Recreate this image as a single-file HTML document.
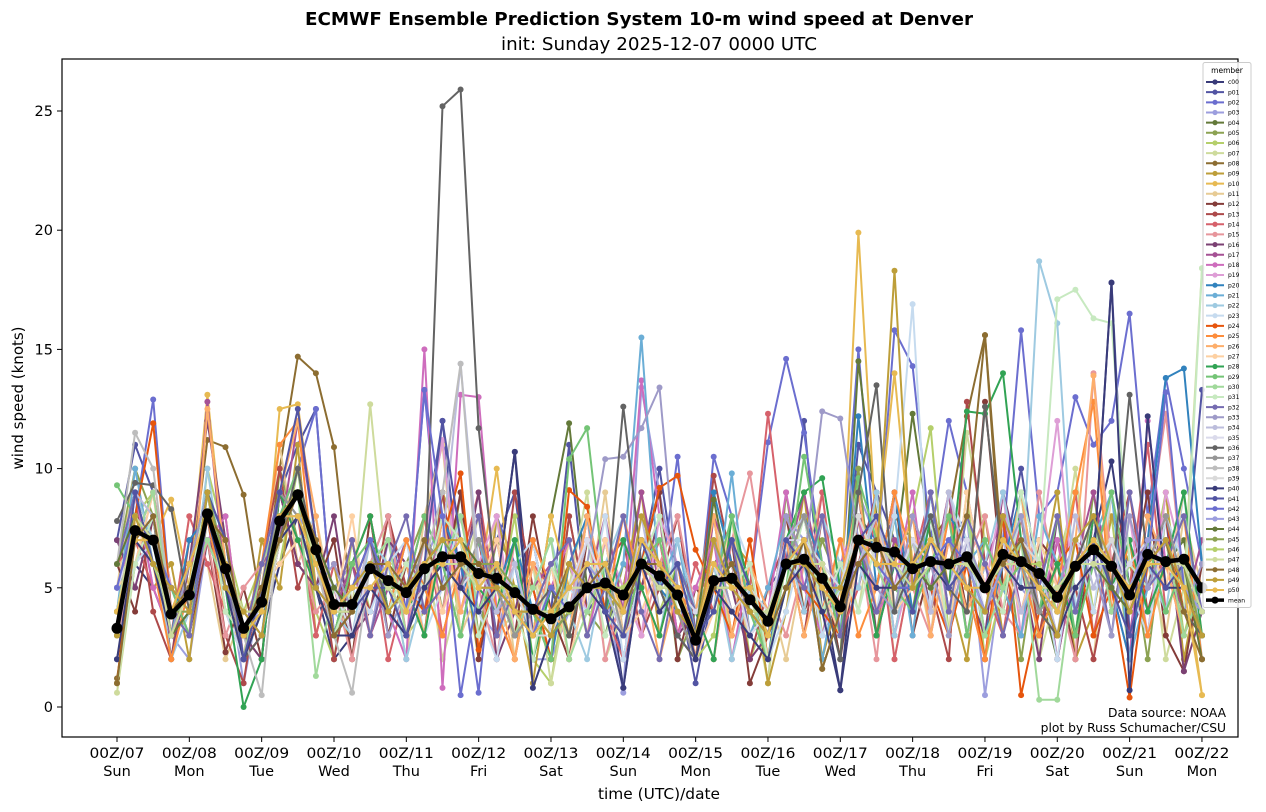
<!DOCTYPE html>
<html><head><meta charset="utf-8"><style>
html,body{margin:0;padding:0;background:#fff;}
svg{display:block;font-family:"DejaVu Sans","Liberation Sans",sans-serif;}
</style></head><body>
<svg id="chart" width="1266" height="812" viewBox="0 0 1266 812">
<text x="639" y="25" text-anchor="middle" font-size="17.5" font-weight="bold" textLength="668" lengthAdjust="spacingAndGlyphs">ECMWF Ensemble Prediction System 10-m wind speed at Denver</text>
<text x="659" y="50" text-anchor="middle" font-size="17.5" textLength="316" lengthAdjust="spacingAndGlyphs">init: Sunday 2025-12-07 0000 UTC</text>
<g id="marks"></g>
<rect x="62" y="59" width="1176" height="678" fill="none" stroke="#000" stroke-width="1.2"/>
<g id="axes"></g>
<text x="23" y="398" text-anchor="middle" font-size="15" transform="rotate(-90 23 398)">wind speed (knots)</text>
<text x="659" y="799" text-anchor="middle" font-size="15" textLength="122" lengthAdjust="spacingAndGlyphs">time (UTC)/date</text>
<text x="1226" y="717" text-anchor="end" font-size="12.3">Data source: NOAA</text>
<text x="1226" y="732" text-anchor="end" font-size="12.3">plot by Russ Schumacher/CSU</text>
<g id="legend"></g>
</svg>
<script>
const tickLabels = ["00Z/07","00Z/08","00Z/09","00Z/10","00Z/11","00Z/12","00Z/13","00Z/14","00Z/15","00Z/16","00Z/17","00Z/18","00Z/19","00Z/20","00Z/21","00Z/22"];
const dayLabels = ["Sun","Mon","Tue","Wed","Thu","Fri","Sat","Sun","Mon","Tue","Wed","Thu","Fri","Sat","Sun","Mon"];
const yTicks = [0,5,10,15,20,25];
const memberNames = ["c00"].concat(Array.from({length:50},(_, i)=>"p"+String(i+1).padStart(2,"0")));
const palette = ["#393b79","#5254a3","#6b6ecf","#9c9ede","#637939","#8ca252","#b5cf6b","#cedb9c","#8c6d31","#bd9e39","#e7ba52","#e7cb94","#843c39","#ad494a","#d6616b","#e7969c","#7b4173","#a55194","#ce6dbd","#de9ed6","#3182bd","#6baed6","#9ecae1","#c6dbef","#e6550d","#fd8d3c","#fdae6b","#fdd0a2","#31a354","#74c476","#a1d99b","#c7e9c0","#756bb1","#9e9ac8","#bcbddc","#dadaeb","#636363","#969696","#bdbdbd","#d9d9d9"];
const meanValues = [3.3,7.4,7.0,3.9,4.7,8.1,5.8,3.3,4.4,7.8,8.9,6.6,4.3,4.3,5.8,5.3,4.8,5.8,6.3,6.3,5.6,5.4,4.8,4.1,3.7,4.2,5.0,5.2,4.7,6.0,5.5,4.7,2.8,5.3,5.4,4.5,3.6,6.0,6.2,5.4,4.2,7.0,6.7,6.5,5.8,6.1,6.0,6.3,5.0,6.4,6.1,5.6,4.6,5.9,6.6,5.9,4.7,6.4,6.1,6.2,5.0];
const memberData = [
"2 6 5 3 4 7 5 2 3 6 8 5 2 3 5 4 3 5 6 5 4 5 10.7 3 3 4 5 6 0.8 7 5 3 2 6 5 4 3 5 7 5 0.7 8 7 6 5 7 6 5 4 7 6 5 4 6 7 10.3 5 7 5 6 4",
"7 11 9 4 5 9 6 4 5 9 11 12.5 3 4 6 8 4 7 12 5 6 7 9 3 4 11 4 5 2 6 10 5 1 5 4 3 5 6 12 4 3 11 9 7 6 5 7 8 3 6 10 5 4 7 6 17.8 3 6 7 5 13.3",
"6 8 12.9 4 3 7 5 2 3 8 10 12.5 3 5 6 7 4 13.3 5 6 0.6 8 6 7 3 5 6 4 0.8 6 5 10.5 3 10.5 8 5 11.1 14.6 11.5 6 5 15 6 15.8 14.3 7 12 9 5 7 15.8 8 9 13 11 12 16.5 8 13.8 10 6",
"4 9 5 3 2 7 6 1 5 8 9 7 5 6 3 7 5 6 8 7 4 3 6 2 2 4 6 5 0.6 13.4 9 5 3 7 6 4 3 8 7 6 4 9 7 5 6 7 5 8 0.5 6 5 4 3 6 8 7 5 6 7 5 4",
"4 8 7 3 5 9 6 3 4 8 9 7 5 4 6 5 4 7 6 8 5 6 4 3 8 11.9 5 6 4 7 6 5 3 6 7 5 3 5 7 6 2 14.5 8 6 12.3 7 6 5 4 7 6 5 2 6 8 6 5 7 6 7 3",
"6 10 8 2 6 9 4 3 2 10 7 8 3 5 7 3 6 8 4 9 3 7 6 5 2 8 4 3 6 5 8 2 4 8 3 6 1 9 4 7 5 10 3 8 7 4 9 3 6 8 2 7 5 3 9 4 7 2 8 6 3",
"1 8 9 5 3 10 7 4 6 6 10 4 2 7 4 8 3 4 9 3 7 4 8 2 1 6 3 7 5 9 4 6 2 3 8 2 4 7 9 3 6 5 9 4 8 11.7 3 9 2 5 8 3 6 9 4 8 2 5 9 3 6",
"0.6 6 7 4 5 8 5 2 4 8 9 7 5 4 12.7 5 4 7 2 5 8 3 4 6 1 5 9 2 4 7 6 3 4 9 2 5 1 8 5 3 7 4 9 2 6 8 3 11.5 7 4 9 2 5 10 3 7 4 8 2 5 18.4",
"1.2 6 8 4 5 11.2 10.9 8.9 4 10 14.7 14.0 10.9 4 6 5 4 6 7 6 5 6 4 3 4 5 6 5 4 7 6 5 3 6 5 4 3 6 7 1.6 4 7 6 5 6 7 8 12.2 15.6 5 6 5 4 7 6 5 4 6 7 5 3",
"3 7 5 6 2 8 8 2 7 5 11 3 6 2 8 4 6 3 9 7 2 8 5 1 6 3 7 4 5 9 3 6 4 2 7 6 1 4 9 2 5 8 3 7 4 9 5 2 8 3 7 5 9 2 4 8 6 3 9 2 6",
"4 9 7 8.7 5 13.1 6 3 4 12.5 12.7 7 4 5 6 5 4 6 7 6 5 10 4 3 8 5 6 5 4 7 6 5 3 6 5 4 3 6 7 5 4 19.9 7 14 6 7 5 6 4 7 6 5 3 6 7 6 5 7 6 6 0.5",
"5 10 6 3 8 6 2 4 5 11 6 8 4 7 3 6 2 8 11 3 5 8 2 6 3 7 4 9 3 5 7 4 2 8 5 3 5 2 6 9 3 6 8 4 7 3 9 5 6 4 8 3 7 5 2 9 4 6 3 8 5",
"6 4 8 5 3 7 2.3 5 2 9 6 5 7 2 8 3 6 4 5 9 2 6 3 8 4 2 7 5 3 6 9 2 5 4 7 1 3 8 4 6 2 7 5 9 3 6 8 4 12.8 5 3 7 6 2 8 4 5 9 3 1.5 6",
"6 9 4 2 7 8 3 1 6 10 5 7 2 6 4 8 5 3 9 4 7 3 9 5 2 8 4 6 7 3 5 8 3 9.7 6 2 5 7 3 8 4 6 9 3 7 5 2 12.8 6 4 8 3 7 5 2 6 9 4 7 3 5",
"6 7 5 3 8 6 4 2 5 7 8 3 6 4 7 2 5 8 3 6 9 4 2 6 5 3 8 4 2 5 7 3 6 4 8 5 12.3 6 4 9 3 5 8 2 6 9 4 7 5 3 8 6 4 9 3 7 5 11 4 6 3",
"3 6 9 5 4 7 3 5 6 9 7 4 5 2 6 8 3 7 4 8 5 2 7 3 6 4 8 2 5 3 6 8 4 2 7 9.8 5 3 6 8 4 7 2 9 5 3 7 6 8 4 3 9 5 2 14.0 6 4 7 12.3 5 3",
"7 5 8 2 6 12 7 3 2 9 6 5 8 3 4 7 6 3 8 5 9 2 4 7 3 6 4 7 3 5 8 3 4 7 5 2 3 6 8 4 5 9 3 6 8 4 7 5 3 9 6 2 8 4 6 9 3 5 8 1.5 4",
"5 7 9 4 3 12.8 5 2 6 7 12 7 4 6 3 5 7 4 8 6 4 7 3 5 6 2 5 8 4 9 5 3 2 8 6 4 3 6 9 5 3 8 4 7 6 5 9 3 6 8 4 7 2 6 9 5 3 8 6 4 7",
"4 9 5 3 6 7 8 2 5 9 7 5 3 6 8 4 2 15.0 0.8 13.1 13 4 6 2 5 7 3 6 4 13.7 8 3 5 7 2 6 4 9 5 3 6 8 4 5 9 3 7 5 2 8 6 4 7 3 8 5 2 12 6 3 5",
"4 7 8 5 3 9 4 2 6 8 10 5 4 7 3 6 5 7 11.2 4 6 8 3 5 2 6 4 7 5 3 8 6 2 4 7 5 3 8 6 4 7 5 9 3 6 8 4 7 5 9 3 6 12 4 7 5 8 3 9 6 4",
"5 6 8 3 7 8 6 4 3 9 8 7 5 3 6 4 7 5 8 6 3 5 7 4 2 6 8 4 3 7 5 4 3 9 6 5 2 7 8 6 3 12.2 5 9 4 6 8 7 3 6 9 4 6 3 8 5 2 7 13.8 14.2 6",
"4 10 6 5 3 8 7 2 5 7 9 5 3 6 8 4 5 7 6 3 7 4 6 2 5 3 8 4 6 15.5 5 7 3 4 9.8 3 5 8 6 2 6 7 5 8 3 9 4 6 7 5 3 8 6 4 7 9 2 5 6 8 3",
"6 9 7 2 4 10 5 4 3 7 10 6 4 3 7 6 2 5 8 7 4 6 3 5 7 4 2 6 8 5 3 7 4 6 2 5 3 7 4 8 6 5 9 3 7 4 8 3 6 9 5 18.7 16.1 4 8 5 3 6 4 9 2",
"4 6 7 5 3 8 4 2 5 6 7 8 3 5 4 6 7 3 5 8 4 2 6 7 3 5 4 8 2 6 7 4 3 5 8 6 2 4 7 3 5 6 4 8 16.9 4 9 7 3 5 8 6 2 7 4 9 5 3 8 6 4",
"1 8 11.9 4 6 8 5 2 3 7 9 5 4 7 3 6 5 4 7 9.8 2.4 6 3 5 2 9.1 8.4 4 3 6 9.2 9.7 6.6 5 3 7 2 6 5 4 3 8 6 4 7 5 3 6 2 8 0.5 4 6 7 3 5 0.4 6 8 4 3",
"3 9 6 2 5 8 4 3 6 11 12 5 3 6 8 4 7 5 3 6 8 4 2 7 5 3 6 4 8 5 3 6 2 7 4 5 3 8 6 4 7 3 5 9 6 4 8 5 2 7 6 3 5 9 12.8 4 7 3 6 8 2",
"5 7 8 4 3 12.5 6 2 5 9 12 8 3 4 7 5 6 3 8 4 7 5 2 6 4 3 8 5 4 6 2 5 4 8 3 6 4 7 3 6 5 9 4 6 8 3 7 4 6 5 9 4 3 7 13.9 5 4 8 6 3 5",
"5 6 9 3 4 8 7 3 5 6 7 5 4 8 3 6 5 7 4 6 5 7 3 4 6 2 5 7 3 4 6 5 2 4 8 3 4 6 7 5 3 6 8 4 5 7 3 9 5 6 4 7 5 3 8 6 4 7 5 9 3",
"4 7 8 3 6 9 5 0.0 2 9 7 5 3 6 8 4 5 3 7 6 5 4 7 2 5 3 6 4 7 5 3 6 4 2 8 5 3 7 9 9.6 5 7 3 6 4 8 5 12.4 12.3 14.0 7 4 6 3 8 5 7 4 6 9 3",
"9.3 8 6 5 3 9 7 2 4 8 10 5 3 6 7 4 5 8 6 3 7 5 3 4 2 10.4 11.7 5 3 6 7 4 3 5 8 4 2 5 10.5 6 3 9.6 7 5 4 6 8 3 7 5 6 4 8 3 6 9 5 7 4 6 3",
"3 7 9 4 5 7 5 2 6 8 9 1.3 5 4 6 7 3 5 6 8 4 6 3 5 7 2 4 6 3 7 5 6 3 4 7 5 2 6 8 4 5 8 6 4 7 5 6 8 3 5 7 0.3 0.3 6 8 4 6 5 7 3 5",
"1 6 8 3 5 9 4 3 5 7 8 6 3 5 7 4 6 5 8 7 3 5 4 2 6 4 7 3 5 6 8 4 3 7 5 6 2 5 8 4 6 4 7 5 6 8 3 7 5 4 9 6 17.1 17.5 16.3 16.1 6 5 7 4 18.4",
"6 9 6 4 3 8 5 3 6 9 8 5 4 7 3 6 8 4 5 6 8 3 5 4 6 7 3 5 8 4 2 6 4 5 7 3 4 6 5 8 3 7 4 6 5 9 4 8 6 3 6 5 8 4 7 3 9 5 6 8 4",
"5 8 6 3 6 9 5 4 3 8 9 5 6 4 7 3 5 7 6 5 6 4 5 3 5 4 6 10.4 10.5 11.7 13.4 5 3 7 4 5 3 8 6 12.4 12.1 7 5 4 8 6 3 7 5 6 8 4 5 7 6 3 8 5 7 4 6",
"3 9 8 4 4 9 6 3 5 7 10 6 3 4 7 5 3 6 7 14.4 6 4 6 3 5 4 7 5 3 8 4 5 2 6 5 4 3 7 8 5 4 6 8 5 7 4 9 6 5 7 4 6 3 8 5 7 4 6 8 5 3",
"5 7 7 5 4 9 6 4 3 8 8 6 5 3 6 5 4 7 6 5 6 5 4 4 3 5 7 5 4 6 6 5 4 5 6 3 4 7 7 6 5 8 6 5 7 6 5 7 4 6 7 5 4 7 6 5 6 7 6 5 4",
"7.8 9.4 9.3 8.3 4 8 6 2 3 7 10 6 4 5 7 4 3 5 25.2 25.9 11.7 5 3 4 5 3 6 4 12.6 6 5 3 2 6 5 4 3 6 7 5 2 9 13.5 4 6 8 5 4 12.6 6 7 4 3 6 8 5 13.1 6 7 4 3",
"4 7 8 3 5 8 6 2 4 9 8 5 3 4 6 5 4 7 6 5 7 5 3 4 4 6 5 6 3 7 6 4 2 5 6 4 3 6 8 5 4 6 7 5 6 6 7 5 4 8 6 4 5 6 7 5 4 6 8 5 3",
"6 11.5 10 4 4 9 6 3 0.5 8 8 6 3 0.6 6 5 4 6 9 14.4 5 6 4 3 4 5 6 5 4 7 6 5 3 6 5 4 3 6 7 5 4 7 6 5 6 7 6 5 4 7 6 5 4 6 7 6 5 6 7 5 4",
"4 8 6 4 5 8 5 4 3 7 9 7 4 5 5 6 4 5 7 6 5 6 5 3 3 5 5 6 4 6 5 5 3 6 4 5 4 6 6 5 4 8 6 6 5 6 7 6 4 6 7 6 4 5 6 7 5 6 7 5 4",
"2 7 6 3 4 8 5 2 4 7 8 5 3 3 5 4 3 5 6 5 4 5 10.7 0.8 3 4 5 4 0.8 6 4 5 2 5 4 3 2 5 6 4 0.7 6 5 5 5 6 5 6 4 6 5 5 3 5 6 17.8 0.7 12.2 5 5 3",
"3 9 6 5 4 9 7 2 5 9 12.5 7 3 4 5 5 3 6 12 7 5 6 4 3 4 5 6 4 3 7 5 6 3 4 7 5 3 7 6 5 4 7 8 6 4 7 5 6 4 6 7 5 4 6 7 5 3 6 5 6 4",
"5 8 7 5 4 8 6 4 3 8 9 6 4 5 7 5 4 13.3 8 0.5 5 6 4 3 5 4 5 6 4 6 6 4 3 5 6 4 3 6 7 5 4 7 6 5 5 6 7 6 5 6 6 5 4 6 7 6 5 6 13.2 5 4",
"3 7 8 4 5 8 6 3 4 8 8 7 4 4 6 6 5 6 6 6 5 5 4 4 4 5 6 5 4 6 6 5 3 5 6 4 3 6 6 5 5 7 6 6 6 6 6 6 4 6 6 6 4 6 6 6 5 7 7 5 4",
"6 8 7 3 4 9 6 3 4 8 9 7 5 4 6 5 5 6 6 7 6 5 4 4 4 4 5 5 4 6 6 5 3 8.7 5 4 4 6 6 5 4 7 7 6 6 5 6 6 5 6 6 5 3 6 6 5 4 6 6 6 2",
"4 8 7 4 4 9 6 3 5 8 9 6 4 4 6 5 5 6 7 6 6 6 5 4 3 4 5 5 4 6 5 5 3 5 5 5 3 6 6 5 4 7 7 6 5 6 6 6 5 6 6 5 5 6 7 6 5 6 6 6 3",
"3 8 6 4 5 8 6 4 4 8 9 6 4 4 6 5 4 6 6 6 5 5 5 4 4 4 5 5 5 6 6 4 3 5 5 4 4 6 6 5 4 7 6 6 6 6 6 6 5 7 6 6 4 6 6 6 5 6 6 6 5",
"4 8 7 3 5 8 6 4 4 7 9 6 4 4 6 5 4 6 6 6 5 6 4 4 4 5 5 5 4 6 5 5 3 5 5 4 4 6 6 6 4 7 7 6 5 6 6 6 5 6 6 5 5 6 6 6 5 6 6 6 4",
"1 7 8 4 5 8 7 3 5 7 9 7 3 4 6 6 5 7 5 6 6 5 4 3 4 6 5 6 4 6 6 5 3 5 6 4 3 5 7 1.6 4 6 7 5 6 7 6 8 15.6 6 7 5 3 6 7 6 5 6 7 4 2",
"3 8 6 5 4 9 5 4 3 8 9 5 4 5 6 4 5 6 7 7 5 5 4 4 3 6 5 5 4 8 6 4 3 7 5 4 3 6 6 5 5 7 6 18.3 5 7 6 5 4 8 6 5 3 7 8 6 4 6 7 5 3",
"4 7 7 4 6 8 6 3 4 8 8 6 4 5 5 6 4 6 6 7 5 6 4 3 4 5 6 6 4 7 6 5 3 6 5 5 3 6 7 5 4 7 6 6 6 7 6 5 5 7 6 5 4 6 7 6 5 6 6 5 0.5"
];
const memberValues = memberData.map(s => s.split(" ").map(Number));
</script>
<script>
const X0 = 117, DAYPX = 72.33, STEP = DAYPX / 4;
const Y0 = 707, YPX = 23.84;
const xs = i => X0 + i * STEP;
const ys = v => Y0 - v * YPX;
const NS = "http://www.w3.org/2000/svg";
const marks = document.getElementById("marks");
const axes = document.getElementById("axes");
const legend = document.getElementById("legend");
function mk(tag, attrs, parent){ const e=document.createElementNS(NS,tag); for(const k in attrs) e.setAttribute(k,attrs[k]); parent.appendChild(e); return e; }

memberValues.forEach((vals, m) => {
  const color = palette[m % 40];
  const g = mk("g", {}, marks);
  
  
  const pts = vals.map((v,i)=>xs(i).toFixed(1)+","+ys(v).toFixed(1)).join(" ");
  const pl = mk("polyline", {points:pts, fill:"none", stroke:color, "stroke-width":2, "stroke-linejoin":"round"}, g);
  
  
  vals.forEach((v,i)=>{
    const c = mk("circle", {cx:xs(i).toFixed(1), cy:ys(v).toFixed(1), r:3, fill:color}, g);
    
    
  });
});
{
  const g = mk("g", {}, marks);
  
  
  const pts = meanValues.map((v,i)=>xs(i).toFixed(1)+","+ys(v).toFixed(1)).join(" ");
  const pl = mk("polyline", {points:pts, fill:"none", stroke:"#000", "stroke-width":4.5, "stroke-linejoin":"round"}, g);
  
  
  meanValues.forEach((v,i)=>{
    const c = mk("circle", {cx:xs(i).toFixed(1), cy:ys(v).toFixed(1), r:5.5, fill:"#000"}, g);
    
    
  });
}
yTicks.forEach(t=>{
  const y = ys(t);
  const l = mk("line", {x1:57, x2:62, y1:y, y2:y, stroke:"#000", "stroke-width":1}, axes);
  
  
  const tx = mk("text", {x:53, y:y+5, "text-anchor":"end", "font-size":14.5}, axes);
  tx.textContent = t;
  
  
});
tickLabels.forEach((lab,i)=>{
  const x = X0 + i*DAYPX;
  const l = mk("line", {x1:x, x2:x, y1:737, y2:742, stroke:"#000", "stroke-width":1}, axes);
  
  
  const t1 = mk("text", {x:x, y:758, "text-anchor":"middle", "font-size":14.5, textLength:55, lengthAdjust:"spacingAndGlyphs"}, axes);
  t1.textContent = lab;
  
  
  const t2 = mk("text", {x:x, y:776, "text-anchor":"middle", "font-size":14.5}, axes);
  t2.textContent = dayLabels[i];
  
  
});
{
  const box = mk("rect", {x:1203, y:62.5, width:48, height:545, rx:2, fill:"#fff", "fill-opacity":0.85, stroke:"#ccc", "stroke-width":1}, legend);
  
  
  const tt = mk("text", {x:1227, y:73, "text-anchor":"middle", "font-size":7.5}, legend);
  tt.textContent = "member";
  
  
  const names = memberNames.concat(["mean"]);
  names.forEach((n,i)=>{
    const y = 82 + i*10.16;
    const isMean = n==="mean";
    const col = isMean ? "#000" : palette[i % 40];
    const g = mk("g", {}, legend);
    
    
    mk("line", {x1:1206, x2:1224, y1:y, y2:y, stroke:col, "stroke-width":isMean?3.5:2}, g);
    mk("circle", {cx:1215, cy:y, r:isMean?3.5:2.6, fill:col}, g);
    const t = mk("text", {x:1228, y:y+2.2, "font-size":6}, g);
    t.textContent = n;
  });
}
</script>
</body></html>
